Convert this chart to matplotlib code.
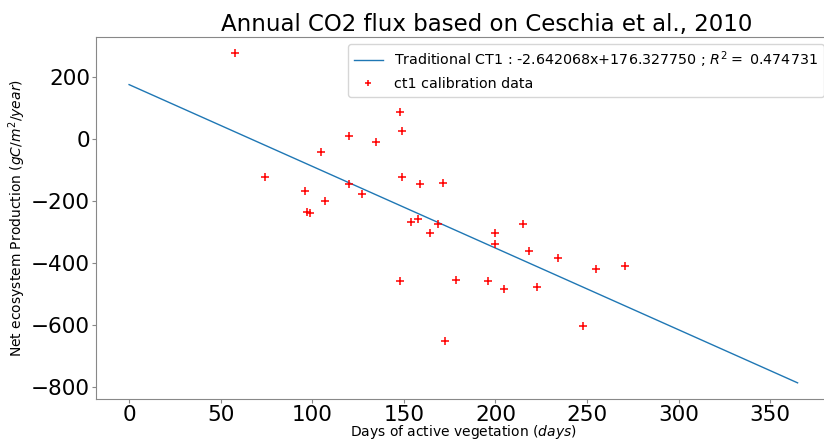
import matplotlib
matplotlib.use("Agg")
import matplotlib.pyplot as plt
import numpy as np

# -- Data ------------------------------------------------------------------
days = [58, 148, 149, 120, 135, 105, 74, 149, 120, 159, 171.5, 96, 127,
        107, 97, 99, 154, 157.5, 168.5, 164.5, 215, 200, 200, 218.5, 234,
        255, 271, 148, 178.5, 196, 204.5, 222.5, 248, 172.5]
nep = [278, 89, 26, 10, -8, -43, -122, -122, -145, -146, -142, -169, -178,
       -200, -235, -240, -269, -259, -273, -305, -274, -303, -340, -363, -385,
       -420, -410, -459, -454, -459, -485, -478, -603, -653]

# fit coefficients shown in the legend
slope = -2.642068
intercept = 176.327750
r2 = 0.474731
fit_days = np.array([0, 365])

# -- Figure ------------------------------------------------------------------
fig = plt.figure(figsize=(8.24, 4.41), dpi=100)
ax = fig.add_axes([0.1161, 0.0945, 0.8924, 0.8223])

ax.plot(fit_days, slope * fit_days + intercept, color="#1f77b4", linewidth=1,
        label="Traditional CT1 : %fx+%f ; $R^2=$ %f" % (slope, intercept, r2))
ax.plot(days, nep, "+", color="red", markersize=5.8, markeredgewidth=1.1,
        label="ct1 calibration data")

ax.set_title("Annual CO2 flux based on Ceschia et al., 2010", fontsize=16.5,
             pad=4, x=0.532)
ax.set_xlabel("Days of active vegetation ($days$)", fontsize=10, labelpad=-1)
ax.set_ylabel("Net ecosystem Production ($gC/m^2/year$)", fontsize=10,
              labelpad=2)
ax.tick_params(labelsize=15.5, length=3, pad=1, color="#888888")
ax.set_xticks([0, 50, 100, 150, 200, 250, 300, 350])
ax.set_yticks([200, 0, -200, -400, -600, -800])
for sp in ax.spines.values():
    sp.set_color("#888888")

ax.legend(loc="upper right", fontsize=10.3, markerscale=0.75)

fig.savefig("out.png", dpi=100)
